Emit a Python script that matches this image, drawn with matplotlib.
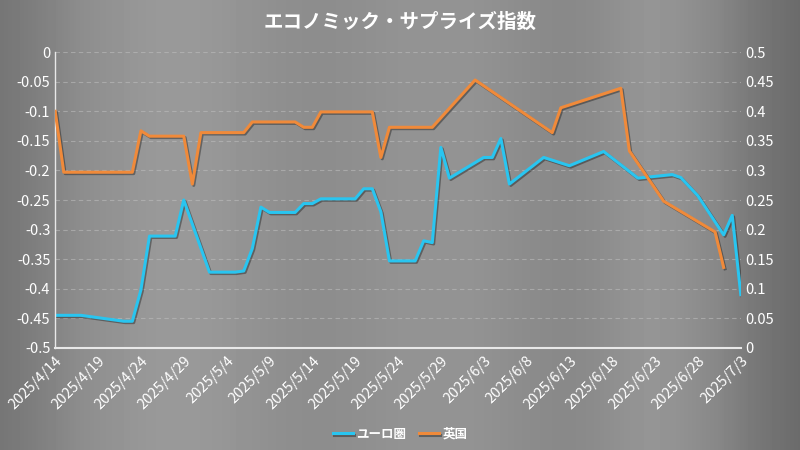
import numpy as np
import pandas as pd
import matplotlib
matplotlib.use("Agg")
import matplotlib.pyplot as plt
import matplotlib.dates as mdates
import matplotlib.patheffects as pe

plt.rcParams["font.family"] = "Noto Sans CJK JP"

start = pd.Timestamp("2025-04-14")
eu_days = [0,3,8,9,10,11,14,15,18,21,22,23,24,25,28,29,30,31,35,36,37,38,39,42,43,44,45,46,50,51,52,53,57,60,64,68,72,73,75,78,79,80]
eu_vals = [-0.445,-0.445,-0.455,-0.455,-0.402,-0.311,-0.311,-0.25,-0.372,-0.372,-0.37,-0.332,-0.262,-0.271,-0.271,-0.256,-0.256,-0.248,-0.248,-0.231,-0.231,-0.27,-0.353,-0.353,-0.319,-0.322,-0.161,-0.213,-0.178,-0.178,-0.146,-0.223,-0.178,-0.192,-0.168,-0.213,-0.207,-0.212,-0.243,-0.309,-0.276,-0.41]
uk_days = [0,1,9,10,11,15,16,17,22,23,28,29,30,31,37,38,39,44,49,58,59,66,67,71,77,78]
uk_vals = [0.4,0.297,0.297,0.367,0.358,0.358,0.277,0.364,0.364,0.382,0.382,0.373,0.373,0.399,0.399,0.322,0.373,0.373,0.453,0.364,0.406,0.439,0.333,0.248,0.196,0.136]
eu_label = "ユーロ圏"
uk_label = "英国"
title = "エコノミック・サプライズ指数"

eu_x = [start + pd.Timedelta(days=d) for d in eu_days]
uk_x = [start + pd.Timedelta(days=d) for d in uk_days]

fig = plt.figure(figsize=(8, 4.5), dpi=100)
bg = fig.add_axes([0, 0, 1, 1], zorder=-10)
xs = np.linspace(0, 1, 400)
prof = 0.50 + 0.10*np.exp(-((xs-0.22)/0.15)**2) + 0.08*np.exp(-((xs-0.55)/0.15)**2) + 0.08*np.exp(-((xs-0.82)/0.08)**2)
prof = prof - 0.08*np.clip((xs-0.9)/0.1, 0, 1) - 0.05*np.clip((0.1-xs)/0.1, 0, 1)
img = np.tile(prof, (10, 1))
bg.imshow(img, cmap="gray", vmin=0, vmax=1, aspect="auto", extent=[0, 1, 0, 1])
bg.axis("off")

ax = fig.add_axes([0.069, 0.227, 0.857, 0.657])
ax.patch.set_alpha(0)
ax2 = ax.twinx()
shadow = [pe.SimpleLineShadow(offset=(1, -1), alpha=0.35), pe.Normal()]
l1, = ax.plot(eu_x, eu_vals, color="#29c5f0", lw=2.2, label=eu_label, path_effects=shadow)
l2, = ax2.plot(uk_x, uk_vals, color="#f08a3a", lw=2.2, label=uk_label, path_effects=shadow)

ax.set_ylim(-0.5, 0)
ax2.set_ylim(0, 0.5)
ax.set_yticks(np.arange(-0.5, 0.001, 0.05))
ax.set_yticklabels(["-0.5","-0.45","-0.4","-0.35","-0.3","-0.25","-0.2","-0.15","-0.1","-0.05","0"])
ax2.set_yticks(np.arange(0, 0.501, 0.05))
ax2.set_yticklabels(["0","0.05","0.1","0.15","0.2","0.25","0.3","0.35","0.4","0.45","0.5"])
ax.set_xlim(start, start + pd.Timedelta(days=80))
ticks = [start + pd.Timedelta(days=d) for d in range(0, 81, 5)]
ax.set_xticks(ticks)
ax.set_xticklabels([f"{t.year}/{t.month}/{t.day}" for t in ticks], rotation=45, ha="right", rotation_mode="anchor")
ax.grid(axis="y", color="#c0c0c0", ls=(0, (4, 3)), lw=0.8, alpha=0.55)
for a in (ax, ax2):
    a.tick_params(colors="white", labelsize=10.5, length=0)
    for s in a.spines.values():
        s.set_visible(False)
ax.spines["bottom"].set_visible(True); ax.spines["bottom"].set_color("#e8e8e8"); ax.spines["bottom"].set_linewidth(1.5)
ax.spines["left"].set_visible(True); ax.spines["left"].set_color("#e8e8e8"); ax.spines["left"].set_linewidth(1)
ax.tick_params(axis="x", pad=4)

fig.text(0.5, 0.95, title, ha="center", va="center", color="white", fontsize=14, fontweight="bold")
leg = fig.legend([l1, l2], [eu_label, uk_label], loc="center", bbox_to_anchor=(0.5, 0.035), ncol=2, frameon=False,
           labelcolor="white", fontsize=9, handlelength=1.6, columnspacing=1.0, handletextpad=0.3)
for t in leg.get_texts():
    t.set_fontweight("bold")
fig.savefig("out.png", dpi=100)
